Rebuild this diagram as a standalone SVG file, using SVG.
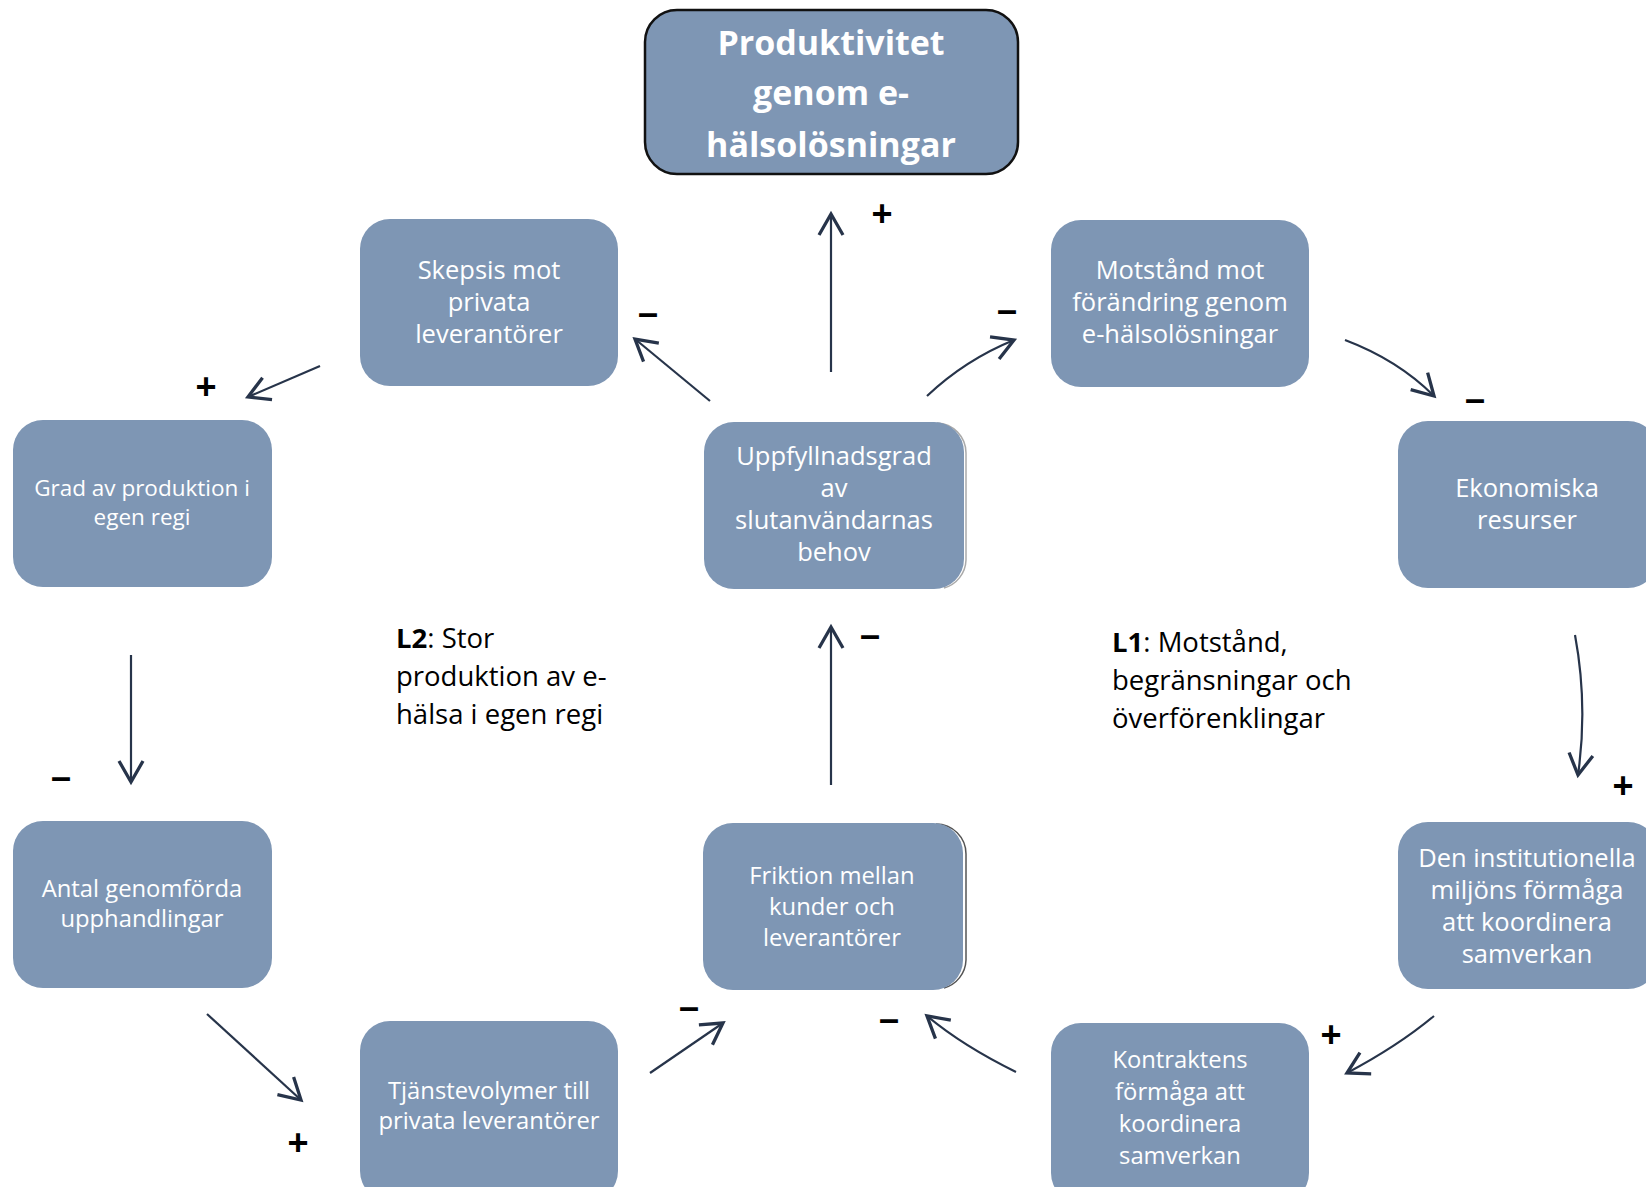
<svg xmlns="http://www.w3.org/2000/svg" width="1646" height="1187" viewBox="0 0 1646 1187">
<defs>
<style>
.box{fill:#7E96B4;}
.t{fill:#ffffff;font-family:"Open Sans","Liberation Sans",sans-serif;font-size:25.5px;text-anchor:middle;}
.tc{fill:#ffffff;font-family:"Open Sans","Liberation Sans",sans-serif;font-size:23.8px;text-anchor:middle;}
.title{fill:#ffffff;font-family:"Open Sans","Liberation Sans",sans-serif;font-size:34px;font-weight:bold;text-anchor:middle;}
.lbl{fill:#000000;font-family:"Open Sans","Liberation Sans",sans-serif;font-size:27.5px;}
.sign{fill:#000000;font-family:"Liberation Sans",sans-serif;font-size:36px;font-weight:bold;text-anchor:middle;}
.c{fill:none;stroke:#27344a;stroke-width:2.2;marker-end:url(#ah);}
.edge{fill:none;stroke:#555;stroke-width:1.5;}
</style>
<marker id="ah" markerUnits="userSpaceOnUse" markerWidth="30" markerHeight="30" viewBox="-16 -10 20 20" refX="0" refY="0" orient="auto">
<path d="M -14 -8 L 0 0 L -14 8" fill="none" stroke="#27344a" stroke-width="2.2"/>
</marker>
</defs>

<g id="connectors">
<path class="c" d="M 831 372 L 831 214"/>
<path class="c" d="M 710 401 L 635 339"/>
<path class="c" d="M 927 396 Q 965 360 1014 340"/>
<path class="c" d="M 1345 340 Q 1398 360 1434 396"/>
<path class="c" d="M 1575 635 Q 1588 705 1578 775"/>
<path class="c" d="M 1434 1016 Q 1398 1046 1347 1073"/>
<path class="c" d="M 1016 1072 Q 963 1046 927 1016"/>
<path class="c" d="M 650 1073 L 723 1023"/>
<path class="c" d="M 831 785 L 831 627"/>
<path class="c" d="M 207 1014 L 301 1100"/>
<path class="c" d="M 131 655 L 131 782"/>
<path class="c" d="M 320 366 L 248 397"/>
</g>

<g id="node-produktivitet">
<rect x="645" y="10" width="373" height="164" rx="32" fill="#7E96B4" stroke="#111" stroke-width="2.5"/>
<text class="title" x="831" y="55">Produktivitet</text>
<text class="title" x="831" y="105">genom e-</text>
<text class="title" x="831" y="157">hälsolösningar</text>
</g>

<g id="node-skepsis">
<rect class="box" x="360" y="219" width="258" height="167" rx="30"/>
<text class="t" x="489" y="279">Skepsis mot</text>
<text class="t" x="489" y="311">privata</text>
<text class="t" x="489" y="343">leverantörer</text>
</g>

<g id="node-motstand">
<rect class="box" x="1051" y="220" width="258" height="167" rx="30"/>
<text class="t" x="1180" y="279">Motstånd mot</text>
<text class="t" x="1180" y="311">förändring genom</text>
<text class="t" x="1180" y="343">e-hälsolösningar</text>
</g>

<g id="node-grad">
<rect class="box" x="13" y="420" width="259" height="167" rx="30"/>
<text class="t" x="142" y="496" style="font-size:22.5px">Grad av produktion i</text>
<text class="t" x="142" y="525" style="font-size:22.5px">egen regi</text>
</g>

<g id="node-uppfyllnad">
<path class="edge" d="M 937 423 A 30 30 0 0 1 966 453 L 966 560 A 30 30 0 0 1 944 588" style="stroke:#aaa"/>
<rect class="box" x="704" y="422" width="260" height="167" rx="30"/>
<text class="t" x="834" y="465">Uppfyllnadsgrad</text>
<text class="t" x="834" y="497">av</text>
<text class="t" x="834" y="529">slutanvändarnas</text>
<text class="t" x="834" y="561">behov</text>
</g>

<g id="node-ekonomiska">
<rect class="box" x="1398" y="421" width="260" height="167" rx="30"/>
<text class="t" x="1527" y="497">Ekonomiska</text>
<text class="t" x="1527" y="529">resurser</text>
</g>

<g id="node-antal">
<rect class="box" x="13" y="821" width="259" height="167" rx="30"/>
<text class="tc" x="142" y="897">Antal genomförda</text>
<text class="tc" x="142" y="927">upphandlingar</text>
</g>

<g id="node-friktion">
<path class="edge" d="M 936 824 A 30 30 0 0 1 966 854 L 966 960 A 30 30 0 0 1 944 988"/>
<rect class="box" x="703" y="823" width="260" height="167" rx="30"/>
<text class="tc" x="832" y="884">Friktion mellan</text>
<text class="tc" x="832" y="915">kunder och</text>
<text class="tc" x="832" y="946">leverantörer</text>
</g>

<g id="node-institutionella">
<rect class="box" x="1398" y="822" width="260" height="167" rx="30"/>
<text class="t" x="1527" y="867">Den institutionella</text>
<text class="t" x="1527" y="899">miljöns förmåga</text>
<text class="t" x="1527" y="931">att koordinera</text>
<text class="t" x="1527" y="963">samverkan</text>
</g>

<g id="node-tjanstevolymer">
<rect class="box" x="360" y="1021" width="258" height="180" rx="30"/>
<text class="tc" x="489" y="1099">Tjänstevolymer till</text>
<text class="tc" x="489" y="1129">privata leverantörer</text>
</g>

<g id="node-kontraktens">
<rect class="box" x="1051" y="1023" width="258" height="180" rx="30"/>
<text class="tc" x="1180" y="1068">Kontraktens</text>
<text class="tc" x="1180" y="1100">förmåga att</text>
<text class="tc" x="1180" y="1132">koordinera</text>
<text class="tc" x="1180" y="1164">samverkan</text>
</g>

<g id="label-L2">
<text class="lbl" x="396" y="648"><tspan font-weight="bold">L2</tspan>: Stor</text>
<text class="lbl" x="396" y="686">produktion av e-</text>
<text class="lbl" x="396" y="724">hälsa i egen regi</text>
</g>

<g id="label-L1">
<text class="lbl" x="1112" y="652"><tspan font-weight="bold">L1</tspan>: Motstånd,</text>
<text class="lbl" x="1112" y="690">begränsningar och</text>
<text class="lbl" x="1112" y="728">överförenklingar</text>
</g>

<g id="signs">
<text class="sign" x="882" y="226">+</text>
<text class="sign" x="648" y="325">–</text>
<text class="sign" x="1007" y="322">–</text>
<text class="sign" x="1475" y="411">–</text>
<text class="sign" x="206" y="399">+</text>
<text class="sign" x="61" y="789">–</text>
<text class="sign" x="870" y="647">–</text>
<text class="sign" x="1623" y="798">+</text>
<text class="sign" x="298" y="1155">+</text>
<text class="sign" x="689" y="1019">–</text>
<text class="sign" x="889" y="1031">–</text>
<text class="sign" x="1331" y="1047">+</text>
</g>
</svg>
